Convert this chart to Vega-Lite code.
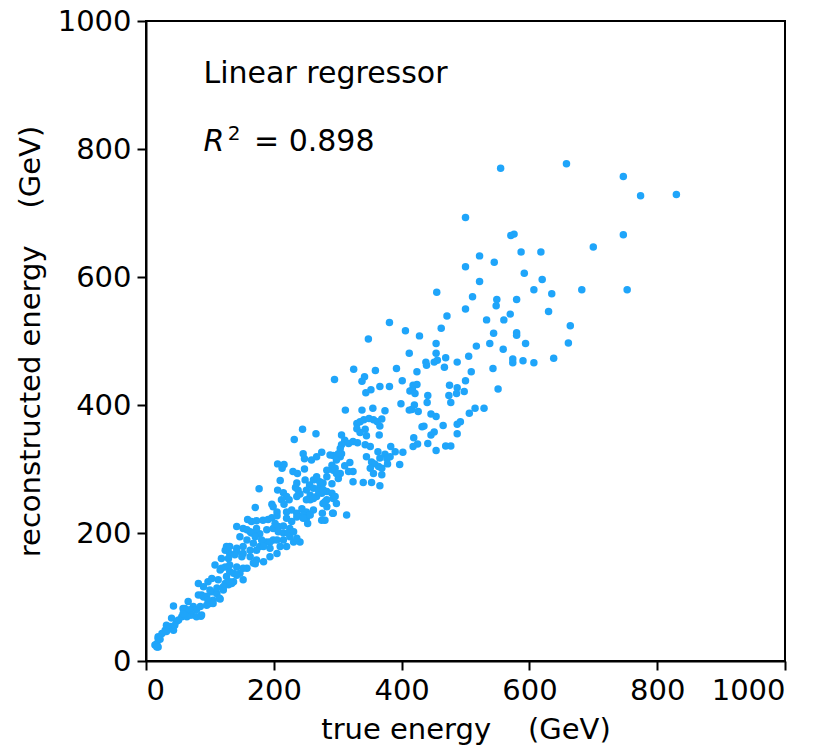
{
  "$schema": "https://vega.github.io/schema/vega-lite/v6.json",
  "autosize": "none",
  "width": 639,
  "height": 640,
  "padding": {"left": 146, "top": 21, "right": 42, "bottom": 87},
  "background": "white",
  "config": {
    "view": {"stroke": "black", "strokeWidth": 2},
    "font": "DejaVu Sans",
    "axis": {
      "grid": false,
      "domainColor": "black",
      "domainWidth": 2,
      "tickColor": "black",
      "tickWidth": 2,
      "tickSize": 9,
      "labelFont": "DejaVu Sans",
      "labelFontSize": 29,
      "labelColor": "black",
      "labelPadding": 6,
      "titleFont": "DejaVu Sans",
      "titleFontSize": 29,
      "titleFontWeight": "normal",
      "titleColor": "black",
      "format": "d"
    }
  },
  "datasets": {
    "pts": [
      {"t":555,"r":770},{"t":658,"r":777},{"t":747,"r":757},{"t":774,"r":727},{"t":830,"r":729},{"t":500,"r":693},{"t":571,"r":665},{"t":576,"r":667},{"t":747,"r":666},{"t":700,"r":647},{"t":587,"r":639},{"t":618,"r":639},{"t":522,"r":633},{"t":545,"r":623},{"t":500,"r":616},{"t":592,"r":606},{"t":522,"r":593},{"t":620,"r":596},{"t":607,"r":580},{"t":682,"r":580},{"t":753,"r":580},{"t":635,"r":574},{"t":455,"r":576},{"t":511,"r":569},{"t":549,"r":565},{"t":548,"r":555},{"t":580,"r":565},{"t":500,"r":550},{"t":630,"r":546},{"t":570,"r":542},{"t":471,"r":539},{"t":533,"r":533},{"t":560,"r":533},{"t":462,"r":520},{"t":664,"r":524},{"t":406,"r":516},{"t":428,"r":508},{"t":544,"r":512},{"t":580,"r":513},{"t":580,"r":509},{"t":454,"r":496},{"t":538,"r":496},{"t":594,"r":496},{"t":661,"r":497},{"t":517,"r":492},{"t":559,"r":487},{"t":412,"r":481},{"t":454,"r":481},{"t":505,"r":476},{"t":469,"r":474},{"t":638,"r":473},{"t":438,"r":467},{"t":439,"r":462},{"t":451,"r":467},{"t":456,"r":470},{"t":487,"r":467},{"t":574,"r":472},{"t":574,"r":466},{"t":590,"r":469},{"t":607,"r":466},{"t":467,"r":459},{"t":543,"r":457},{"t":424,"r":452},{"t":509,"r":452},{"t":401,"r":438},{"t":500,"r":438},{"t":418,"r":431},{"t":424,"r":432},{"t":417,"r":424},{"t":421,"r":418},{"t":413,"r":422},{"t":475,"r":431},{"t":487,"r":427},{"t":486,"r":418},{"t":498,"r":421},{"t":551,"r":425},{"t":474,"r":415},{"t":441,"r":415},{"t":440,"r":404},{"t":477,"r":404},{"t":399,"r":402},{"t":420,"r":400},{"t":416,"r":393},{"t":412,"r":392},{"t":426,"r":390},{"t":515,"r":395},{"t":529,"r":395},{"t":506,"r":387},{"t":446,"r":386},{"t":454,"r":382},{"t":465,"r":368},{"t":487,"r":370},{"t":492,"r":374},{"t":432,"r":366},{"t":435,"r":367},{"t":487,"r":355},{"t":446,"r":353},{"t":451,"r":358},{"t":419,"r":349},{"t":441,"r":340},{"t":454,"r":329},{"t":418,"r":335},{"t":425,"r":339},{"t":469,"r":336},{"t":477,"r":336},{"t":402,"r":326},{"t":397,"r":307},
      {"t":381,"r":529},{"t":348,"r":503},{"t":325,"r":456},{"t":295,"r":440},{"t":359,"r":454},{"t":392,"r":457},{"t":338,"r":437},{"t":342,"r":444},{"t":352,"r":424},{"t":344,"r":419},{"t":366,"r":429},{"t":381,"r":429},{"t":312,"r":392},{"t":338,"r":392},{"t":355,"r":395},{"t":374,"r":391},{"t":330,"r":371},{"t":335,"r":374},{"t":341,"r":377},{"t":349,"r":379},{"t":356,"r":377},{"t":362,"r":374},{"t":369,"r":378},{"t":366,"r":367},{"t":330,"r":363},{"t":343,"r":362},{"t":335,"r":357},{"t":345,"r":352},{"t":306,"r":353},{"t":311,"r":345},{"t":317,"r":340},{"t":306,"r":338},{"t":304,"r":332},{"t":324,"r":343},{"t":331,"r":341},{"t":365,"r":353},{"t":343,"r":338},{"t":351,"r":335},{"t":363,"r":327},{"t":374,"r":323},{"t":377,"r":316},{"t":366,"r":317},{"t":383,"r":335},{"t":390,"r":327},{"t":345,"r":319},{"t":353,"r":311},{"t":358,"r":308},{"t":364,"r":304},{"t":369,"r":301},{"t":351,"r":301},{"t":356,"r":293},{"t":369,"r":291},{"t":366,"r":274},{"t":353,"r":279},{"t":340,"r":279},{"t":324,"r":280},{"t":324,"r":296},{"t":317,"r":296},{"t":319,"r":310},{"t":311,"r":305},{"t":304,"r":293},{"t":301,"r":285},{"t":293,"r":298},{"t":291,"r":306},{"t":283,"r":298},{"t":304,"r":319},{"t":306,"r":324},{"t":293,"r":321},{"t":275,"r":326},{"t":267,"r":319},{"t":259,"r":314},{"t":246,"r":324},{"t":382,"r":319},{"t":378,"r":308},{"t":314,"r":228},{"t":272,"r":272},{"t":283,"r":265},{"t":291,"r":262},{"t":267,"r":257},{"t":257,"r":252},{"t":277,"r":246},{"t":293,"r":231},{"t":266,"r":355},{"t":245,"r":362},
      {"t":232,"r":346},{"t":248,"r":316},{"t":206,"r":308},{"t":216,"r":307},{"t":213,"r":301},{"t":230,"r":296},{"t":237,"r":293},{"t":248,"r":300},{"t":288,"r":322},{"t":210,"r":282},{"t":249,"r":283},{"t":267,"r":284},{"t":272,"r":280},{"t":177,"r":269},{"t":206,"r":267},{"t":215,"r":263},{"t":220,"r":257},{"t":224,"r":252},{"t":212,"r":252},{"t":216,"r":245},{"t":234,"r":271},{"t":238,"r":267},{"t":241,"r":261},{"t":236,"r":257},{"t":256,"r":275},{"t":262,"r":270},{"t":270,"r":266},{"t":275,"r":262},{"t":277,"r":268},{"t":283,"r":252},{"t":293,"r":254},{"t":298,"r":246},{"t":171,"r":240},{"t":197,"r":245},{"t":199,"r":241},{"t":228,"r":236},{"t":236,"r":231},{"t":244,"r":238},{"t":251,"r":233},{"t":246,"r":228},{"t":251,"r":223},{"t":262,"r":236},{"t":257,"r":228},{"t":276,"r":231},{"t":280,"r":220},{"t":292,"r":231},{"t":253,"r":215},{"t":159,"r":221},{"t":165,"r":218},{"t":173,"r":219},{"t":183,"r":220},{"t":191,"r":221},{"t":197,"r":224},{"t":205,"r":227},{"t":142,"r":210},{"t":152,"r":207},{"t":163,"r":202},{"t":171,"r":197},{"t":178,"r":199},{"t":189,"r":205},{"t":199,"r":207},{"t":207,"r":210},{"t":215,"r":211},{"t":147,"r":194},{"t":158,"r":189},{"t":168,"r":184},{"t":178,"r":179},{"t":189,"r":186},{"t":199,"r":189},{"t":210,"r":179},{"t":220,"r":179},{"t":231,"r":186},{"t":241,"r":186},{"t":236,"r":192},{"t":126,"r":179},{"t":131,"r":168},{"t":142,"r":171},{"t":152,"r":168},{"t":163,"r":163},{"t":173,"r":158},{"t":184,"r":155},{"t":194,"r":163},{"t":205,"r":168},{"t":108,"r":150},{"t":116,"r":142},{"t":124,"r":147},{"t":131,"r":140},{"t":142,"r":147},{"t":147,"r":137},{"t":158,"r":145},{"t":168,"r":153},{"t":126,"r":132},{"t":137,"r":124},{"t":152,"r":127},{"t":82,"r":121},{"t":90,"r":116},{"t":97,"r":124},{"t":103,"r":108},{"t":95,"r":101},{"t":87,"r":103},{"t":105,"r":95},{"t":116,"r":97},{"t":111,"r":105},{"t":129,"r":119},{"t":121,"r":111},{"t":43,"r":86},{"t":58,"r":82},{"t":66,"r":93},{"t":74,"r":85},{"t":69,"r":72},{"t":79,"r":80},{"t":87,"r":72},{"t":100,"r":90},{"t":61,"r":75},{"t":56,"r":69},{"t":40,"r":67},{"t":48,"r":62},{"t":38,"r":54},{"t":30,"r":48},{"t":32,"r":56},{"t":43,"r":48},{"t":25,"r":43},{"t":19,"r":35},{"t":17,"r":27},{"t":14,"r":25},{"t":19,"r":22},{"t":22,"r":34},{"t":86,"r":70},{"t":115,"r":98},
      {"t":301,"r":324},{"t":262,"r":283},{"t":236,"r":278},{"t":251,"r":267},{"t":257,"r":259},{"t":251,"r":252},{"t":262,"r":254},{"t":291,"r":277},{"t":283,"r":241},{"t":205,"r":233},{"t":220,"r":233},{"t":275,"r":220},{"t":202,"r":215},{"t":220,"r":223},{"t":228,"r":218},{"t":236,"r":225},{"t":246,"r":223},{"t":158,"r":205},{"t":165,"r":200},{"t":173,"r":207},{"t":207,"r":202},{"t":215,"r":200},{"t":225,"r":207},{"t":171,"r":194},{"t":181,"r":189},{"t":194,"r":186},{"t":205,"r":189},{"t":215,"r":189},{"t":225,"r":194},{"t":223,"r":200},{"t":231,"r":202},{"t":124,"r":173},{"t":131,"r":179},{"t":142,"r":176},{"t":152,"r":179},{"t":163,"r":173},{"t":173,"r":173},{"t":184,"r":179},{"t":194,"r":176},{"t":118,"r":160},{"t":129,"r":160},{"t":139,"r":166},{"t":150,"r":163},{"t":171,"r":152},{"t":118,"r":145},{"t":131,"r":150},{"t":152,"r":145},{"t":137,"r":137},{"t":142,"r":134},{"t":134,"r":121},{"t":124,"r":121},{"t":113,"r":127},{"t":103,"r":129},{"t":100,"r":111},{"t":111,"r":114},{"t":121,"r":116},{"t":131,"r":124},{"t":82,"r":103},{"t":90,"r":100},{"t":97,"r":95},{"t":105,"r":90},{"t":95,"r":87},{"t":85,"r":85},{"t":69,"r":80},{"t":61,"r":82},{"t":72,"r":72},{"t":79,"r":69},{"t":64,"r":69},{"t":58,"r":74},{"t":51,"r":64},{"t":45,"r":56},{"t":32,"r":46},{"t":19,"r":38},{"t":17,"r":22},{"t":298,"r":314},{"t":296,"r":301},{"t":298,"r":293},{"t":283,"r":288},{"t":267,"r":288},{"t":277,"r":278},{"t":296,"r":257},{"t":280,"r":249}
    ],
    "labelsN": [
      {"t":90,"r":903,"txt":"Linear regressor","fs":30},
      {"t":128,"r":814,"txt":"2","fs":20},
      {"t":169,"r":797,"txt":"= 0.898","fs":30}
    ],
    "labelsI": [
      {"t":90,"r":797,"txt":"R","fs":30}
    ]
  },
  "layer": [
    {
      "data": {"name": "pts"},
      "mark": {"type": "point", "filled": true, "shape": "circle", "size": 56, "color": "#1fa5fa", "opacity": 1},
      "encoding": {
        "x": {"field": "t", "type": "quantitative", "scale": {"domain": [0, 1000], "nice": false},
              "axis": {"values": [0, 200, 400, 600, 800, 1000], "title": "true energy\u00a0\u00a0\u00a0\u00a0(GeV)", "titlePadding": 10}},
        "y": {"field": "r", "type": "quantitative", "scale": {"domain": [0, 1000], "nice": false},
              "axis": {"values": [0, 200, 400, 600, 800, 1000], "title": "reconstructed energy\u00a0\u00a0\u00a0\u00a0(GeV)", "titlePadding": 12}}
      }
    },
    {
      "data": {"name": "labelsN"},
      "mark": {"type": "text", "align": "left", "baseline": "alphabetic", "font": "DejaVu Sans", "color": "black"},
      "encoding": {
        "x": {"field": "t", "type": "quantitative"},
        "y": {"field": "r", "type": "quantitative"},
        "text": {"field": "txt"},
        "size": {"field": "fs", "type": "quantitative", "scale": null}
      }
    },
    {
      "data": {"name": "labelsI"},
      "mark": {"type": "text", "align": "left", "baseline": "alphabetic", "font": "DejaVu Sans", "fontStyle": "italic", "color": "black"},
      "encoding": {
        "x": {"field": "t", "type": "quantitative"},
        "y": {"field": "r", "type": "quantitative"},
        "text": {"field": "txt"},
        "size": {"field": "fs", "type": "quantitative", "scale": null}
      }
    }
  ]
}
